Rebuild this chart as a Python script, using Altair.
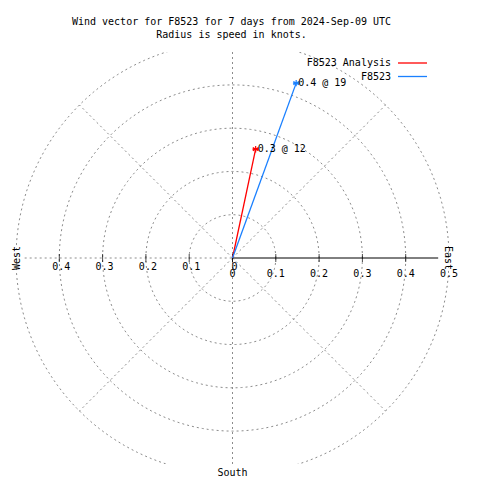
import altair as alt
import pandas as pd

# ---- data ----
series = ["F8523 Analysis", "F8523"]
speed_kt = [0.257, 0.430]
direction_deg = [12, 20]
tip_text = ["0.3 @ 12", "0.4 @ 19"]
series_colors = ["#ff0000", "#1a80ff"]

ring_radii = [0.1, 0.2, 0.3, 0.4, 0.5]
spoke_deg = [45, 135, 225, 315]
east_tick_values = [0.0, 0.1, 0.2, 0.3, 0.4]
east_label_values = [0.0, 0.1, 0.2, 0.3, 0.4, 0.5]
east_label_text = ["0", "0.1", "0.2", "0.3", "0.4", "0.5"]
west_values = [0.0, -0.1, -0.2, -0.3, -0.4]
west_label_text = ["0", "0.1", "0.2", "0.3", "0.4"]
compass_names = ["West", "East", "South"]
compass_deg = [270, 90, 180]
compass_text_angle = [270, 90, 0]
east_axis_len = [0.475]
west_axis_len = [0.48]

FONT = "DejaVu Sans Mono"
GRID = "#8c8c8c"
DASH = [2, 3]
STAR = "M0,-1L0,1M-0.87,-0.5L0.87,0.5M-0.87,0.5L0.87,-0.5M-1,0L1,0"
LEGEND_LINE = "M-4,0L4,0"

xs = alt.Scale(domain=[-0.5, 0.5], nice=False, zero=False)
ys = alt.Scale(domain=[-0.476, 0.476], nice=False, zero=False)


def X(f):
    return alt.X(f, type="quantitative", scale=xs, axis=None)


def Y(f):
    return alt.Y(f, type="quantitative", scale=ys, axis=None)


rings = alt.Chart(pd.DataFrame({"r": ring_radii})).transform_calculate(
    a="sequence(0, 362, 2)"
).transform_flatten(["a"]).transform_calculate(
    px="datum.r * cos(datum.a * PI / 180)",
    py="datum.r * sin(datum.a * PI / 180)",
).mark_line(clip=True, color=GRID, strokeDash=DASH, strokeWidth=1).encode(
    x=X("px"), y=Y("py"), detail="r:N", order="a:Q"
)

spokes = alt.Chart(pd.DataFrame({"deg": spoke_deg})).transform_calculate(
    o="0",
    x1="0.5 * cos(datum.deg * PI / 180)",
    y1="0.5 * sin(datum.deg * PI / 180)",
).mark_rule(color=GRID, strokeDash=DASH, strokeWidth=1).encode(
    x=X("o"), y=Y("o"), x2="x1:Q", y2="y1:Q"
)

vline = alt.Chart(pd.DataFrame({"v": [0.0]})).mark_rule(
    color=GRID, strokeDash=DASH, strokeWidth=1
).encode(x=X("v"))

west_line = alt.Chart(pd.DataFrame({"len": west_axis_len})).transform_calculate(
    o="0", w="-datum.len"
).mark_rule(color=GRID, strokeDash=DASH, strokeWidth=1).encode(
    x=X("w"), x2="o:Q", y=Y("o")
)

east_line = alt.Chart(pd.DataFrame({"len": east_axis_len})).transform_calculate(
    o="0"
).mark_rule(color="black", strokeWidth=1).encode(
    x=X("o"), x2="len:Q", y=Y("o")
)

ticks = alt.Chart(pd.DataFrame({"t": east_tick_values + west_values})).transform_calculate(
    o="0"
).mark_tick(orient="vertical", size=8, thickness=1, color="black").encode(
    x=X("t"), y=Y("o")
)

east_labels = alt.Chart(pd.DataFrame({"v": east_label_values, "lab": east_label_text})).transform_calculate(
    o="0"
).mark_text(font=FONT, fontSize=10, color="black", baseline="middle", align="center", dy=16).encode(
    x=X("v"), y=Y("o"), text="lab:N"
)

west_labels = alt.Chart(pd.DataFrame({"v": west_values, "lab": west_label_text})).transform_calculate(
    o="0"
).mark_text(font=FONT, fontSize=10, color="black", baseline="middle", align="center", dy=9, dx=2).encode(
    x=X("v"), y=Y("o"), text="lab:N"
)

compass = alt.Chart(pd.DataFrame({"name": compass_names, "deg": compass_deg, "ang": compass_text_angle})).transform_calculate(
    cx="0.497 * sin(datum.deg * PI / 180)",
    cy="0.497 * cos(datum.deg * PI / 180)",
).mark_text(font=FONT, fontSize=10, color="black", baseline="middle", align="center").encode(
    x=X("cx"), y=Y("cy"), text="name:N", angle=alt.Angle("ang:Q", scale=None)
)

vec = pd.DataFrame({"series": series, "speed": speed_kt, "dir": direction_deg, "label": tip_text})
base = alt.Chart(vec).transform_calculate(
    vx="datum.speed * sin(datum.dir * PI / 180)",
    vy="datum.speed * cos(datum.dir * PI / 180)",
    o="0",
)

color = alt.Color(
    "series:N",
    scale=alt.Scale(domain=series, range=series_colors),
    legend=alt.Legend(
        title=None,
        orient="none",
        legendX=391.5,
        legendY=6,
        symbolType=LEGEND_LINE,
        symbolSize=52.6,
        symbolStrokeWidth=1.3,
        labelAlign="right",
        labelOffset=alt.ExprRef(expr="-26.5"),
        labelFont=FONT,
        labelFontSize=10,
        labelColor="black",
        rowPadding=3.5,
        padding=0,
    ),
)

vectors = base.mark_rule(strokeWidth=1.3).encode(
    x=X("o"), y=Y("o"), x2="vx:Q", y2="vy:Q", color=color
)

stars = base.mark_point(shape=STAR, size=42, filled=False, strokeWidth=1.2, opacity=1).encode(
    x=X("vx"), y=Y("vy"), color=color
)

tips = base.mark_text(font=FONT, fontSize=10, color="black", align="left", baseline="middle", dx=2).encode(
    x=X("vx"), y=Y("vy"), text="label:N"
)

chart = alt.layer(
    rings, spokes, vline, west_line, east_line, ticks, east_labels, west_labels,
    compass, vectors, stars, tips
).properties(
    width=433,
    height=412,
    autosize=alt.AutoSizeParams(type="none"),
    padding={"left": 8, "top": 44, "right": 23, "bottom": 16},
    title=alt.TitleParams(
        text=["Wind vector for F8523 for 7 days from 2024-Sep-09 UTC", "Radius is speed in knots."],
        font=FONT,
        fontSize=10,
        fontWeight="normal",
        color="black",
        lineHeight=13,
        anchor="middle",
        frame="group",
        baseline="bottom",
        offset=3,
        dx=-1,
        dy=1,
    ),
).configure_view(stroke=None)

chart.save("out.html", embed_options={"renderer": "svg", "actions": False})
